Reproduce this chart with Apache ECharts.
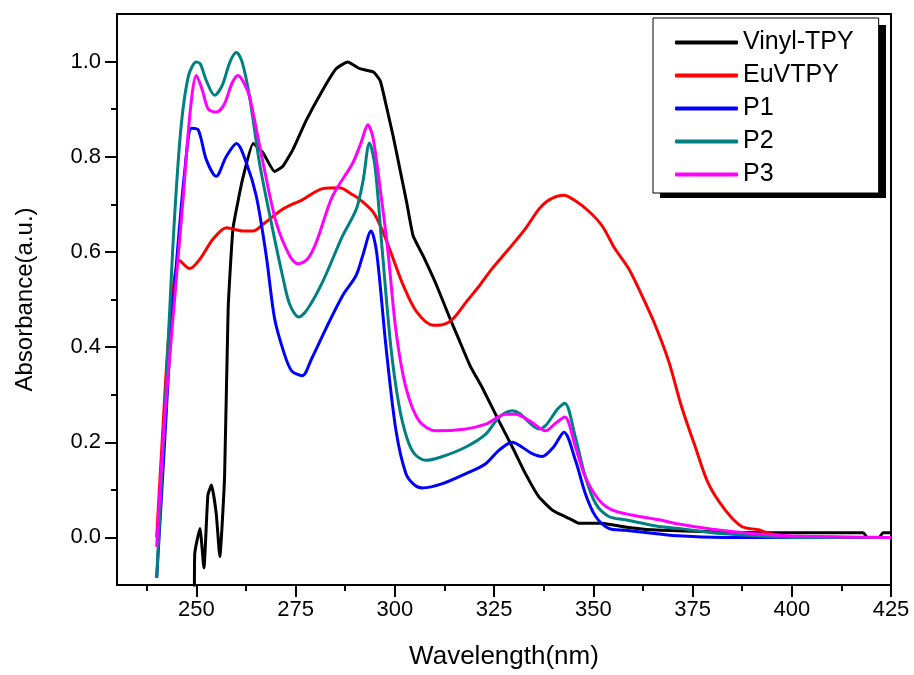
<!DOCTYPE html>
<html><head><meta charset="utf-8">
<script src="https://cdn.jsdelivr.net/npm/echarts@6/dist/echarts.min.js"></script>
<style>html,body{margin:0;padding:0;background:#fff}#c{width:914px;height:675px}</style>
</head><body><div id="c"></div>
<script>
const seriesNames = ['Vinyl-TPY', 'EuVTPY', 'P1', 'P2', 'P3'];
const xMajorTicks = [250, 275, 300, 325, 350, 375, 400, 425];
const xMinorTicks = [237.5, 262.5, 287.5, 312.5, 337.5, 362.5, 387.5, 412.5];
const yMajorTicks = [0, 0.2, 0.4, 0.6, 0.8, 1.0];
const yMinorTicks = [0.1, 0.3, 0.5, 0.7, 0.9];

const vinylTPY = [[249.5,-0.12],[249.6,-0.033],[250.9,0.019],[251.9,-0.064],[252.9,0.089],[253.8,0.11],[255,0.05],[255.9,-0.04],[257.1,0.127],[258,0.48],[259.2,0.648],[260.5,0.707],[261.7,0.755],[264.3,0.828],[266.8,0.808],[269.7,0.769],[271.8,0.78],[274.3,0.815],[277.7,0.877],[281.8,0.94],[285.2,0.985],[288.1,0.999],[291.2,0.985],[294.6,0.978],[296.3,0.96],[297.9,0.905],[299.6,0.842],[301.3,0.773],[303,0.703],[304.6,0.634],[307.1,0.592],[310.5,0.53],[313.9,0.46],[316,0.419],[319,0.36],[322,0.315],[326.2,0.245],[329.6,0.19],[332.9,0.134],[336.3,0.085],[339.6,0.058],[341.3,0.05],[344.6,0.037],[346.3,0.03],[352.2,0.03],[358,0.022],[364.8,0.016],[375,0.013],[385,0.011],[395,0.01],[418,0.01],[419,0.0],[422,0.0],[423,0.01],[425,0.01]];
const euVTPY = [[240,0.0],[241.5,0.22],[243.3,0.45],[245.8,0.582],[248.3,0.565],[250.9,0.585],[254.2,0.627],[257.6,0.651],[261.7,0.644],[264.3,0.644],[266.8,0.658],[271.8,0.69],[276.8,0.71],[281.8,0.733],[286,0.735],[289.4,0.72],[291.2,0.71],[294.6,0.683],[297.1,0.64],[299.6,0.585],[302.1,0.53],[305.5,0.474],[309.7,0.446],[312,0.447],[314.7,0.46],[318,0.495],[321.4,0.53],[324.5,0.565],[328.7,0.606],[333,0.65],[336.3,0.69],[339,0.71],[342.6,0.719],[345,0.71],[348.8,0.686],[352.2,0.655],[355.5,0.606],[358.9,0.565],[362.2,0.509],[365.6,0.446],[369,0.37],[372.3,0.273],[375.7,0.19],[379,0.113],[383.2,0.058],[387.4,0.023],[391.6,0.016],[394.1,0.009],[399.9,0.002],[425,0.0]];
const p1 = [[240,-0.085],[242,0.2],[243.5,0.42],[245,0.578],[247.1,0.773],[248.8,0.86],[250.5,0.856],[252.5,0.794],[255,0.759],[257.5,0.80],[260.1,0.828],[262.6,0.787],[265.1,0.717],[267.6,0.592],[269.7,0.46],[272,0.39],[274,0.35],[276.7,0.34],[279,0.375],[282.7,0.44],[286.9,0.509],[290.2,0.55],[291.9,0.592],[294,0.644],[295.4,0.6],[297.8,0.398],[300.3,0.224],[302.8,0.134],[305,0.11],[307,0.104],[312,0.113],[317.9,0.134],[322.9,0.155],[326.2,0.183],[329.6,0.2],[332,0.19],[334.6,0.176],[337.1,0.17],[340,0.19],[342.6,0.221],[345.5,0.162],[348,0.092],[350.6,0.044],[353.9,0.019],[358,0.015],[364.8,0.009],[370,0.004],[383,0.0],[425,0.0]];
const p2 = [[240,-0.085],[242,0.25],[244,0.6],[246,0.85],[248,0.97],[250,0.999],[251,0.995],[252.5,0.96],[254.6,0.929],[256.5,0.95],[258.5,1.0],[260.1,1.019],[261.5,1.0],[263.4,0.926],[265.9,0.787],[269.2,0.648],[271.7,0.55],[273.5,0.49],[275.8,0.463],[278,0.48],[281.8,0.537],[286.8,0.633],[290.3,0.69],[292,0.75],[293.6,0.829],[295,0.78],[296.8,0.606],[299,0.4],[301,0.28],[303,0.21],[305,0.175],[307.8,0.162],[312,0.17],[317.9,0.19],[322.9,0.217],[326.2,0.252],[329.6,0.266],[331.5,0.26],[336.3,0.228],[338,0.235],[341,0.27],[342.8,0.282],[345.5,0.21],[348,0.127],[350.6,0.071],[353.9,0.044],[358,0.037],[366.5,0.023],[371.5,0.019],[380,0.01],[390,0.004],[400,0.0],[425,0.0]];
const p3 = [[240,-0.02],[242,0.25],[244.6,0.509],[246.7,0.717],[248.5,0.9],[250,0.971],[251.5,0.94],[253,0.9],[255,0.894],[257,0.91],[259,0.955],[260.5,0.971],[262,0.955],[263.4,0.926],[266.8,0.787],[270.1,0.662],[273.5,0.592],[275.6,0.575],[278,0.585],[280.2,0.62],[284.3,0.717],[289.4,0.787],[291.5,0.83],[293.2,0.867],[294.5,0.84],[296.5,0.72],[298.2,0.606],[300.3,0.433],[302.8,0.315],[306.1,0.245],[310.3,0.224],[317.9,0.228],[322.9,0.238],[327.9,0.259],[330.4,0.259],[334,0.245],[338,0.224],[340.5,0.24],[342.8,0.253],[345.5,0.19],[348,0.127],[351.4,0.079],[354.7,0.058],[359.7,0.047],[366.5,0.037],[371.5,0.028],[380,0.017],[390,0.008],[400,0.003],[425,0.0]];

const allData = [vinylTPY, euVTPY, p1, p2, p3];
const colors = ['#000000', '#ff0000', '#0000ff', '#008080', '#ff00ff'];
const FONT = 'Liberation Sans, Arial, sans-serif';

function tickAxis(min, max, pos, values, len) {
  return {
    type: 'value', min: min, max: max, position: pos,
    axisLine: {show: false, onZero: false},
    axisTick: {show: true, length: len, lineStyle: {color: '#000', width: 2}, customValues: values},
    axisLabel: {show: false}, splitLine: {show: false}
  };
}

const chart = echarts.init(document.getElementById('c'), null, {renderer: 'canvas'});
const axisLineStyle = {color: '#000', width: 2};
chart.setOption({
  animation: false,
  backgroundColor: '#fff',
  grid: {left: 117, right: 23, top: 14, bottom: 85, show: true, borderColor: '#000', borderWidth: 2},
  graphic: [{
    type: 'rect', left: 660, top: 25, z: 1,
    shape: {width: 226, height: 173},
    style: {fill: '#000'}
  }],
  xAxis: [{
    type: 'value', min: 230, max: 425, position: 'bottom',
    axisLine: {show: true, onZero: false, lineStyle: axisLineStyle},
    axisTick: {show: false},
    axisLabel: {show: true, customValues: xMajorTicks, fontSize: 22, color: '#000', fontFamily: FONT, margin: 14},
    splitLine: {show: false},
    name: 'Wavelength(nm)', nameLocation: 'middle', nameGap: 59,
    nameTextStyle: {fontSize: 26, color: '#000', fontFamily: FONT}
  }, tickAxis(230, 425, 'bottom', xMajorTicks, 12), tickAxis(230, 425, 'bottom', xMinorTicks, 6)],
  yAxis: [{
    type: 'value', min: -0.1, max: 1.1, position: 'left',
    axisLine: {show: true, onZero: false, lineStyle: axisLineStyle},
    axisTick: {show: false},
    axisLabel: {show: true, customValues: yMajorTicks, fontSize: 22, color: '#000', fontFamily: FONT, margin: 16,
      formatter: v => Number(v).toFixed(1)},
    splitLine: {show: false},
    name: 'Absorbance(a.u.)', nameLocation: 'middle', nameGap: 80,
    nameTextStyle: {fontSize: 24, color: '#000', fontFamily: FONT}
  }, tickAxis(-0.1, 1.1, 'left', yMajorTicks, 12), tickAxis(-0.1, 1.1, 'left', yMinorTicks, 6)],
  legend: {
    orient: 'vertical', left: 653, top: 18, z: 5,
    padding: [12, 25, 6, 22], itemGap: 8,
    itemWidth: 63, itemHeight: 4, icon: 'roundRect',
    backgroundColor: '#fff', borderColor: '#000', borderWidth: 1,
    textStyle: {fontSize: 25, color: '#000', fontFamily: FONT},
    data: seriesNames
  },
  series: seriesNames.map((n, i) => ({
    name: n, type: 'line', data: allData[i], xAxisIndex: 0, yAxisIndex: 0,
    showSymbol: false, symbol: 'none', smooth: i === 0 ? 0.15 : 0.3,
    lineStyle: {color: colors[i], width: 3}, itemStyle: {color: colors[i]},
    clip: true
  }))
});
</script></body></html>
